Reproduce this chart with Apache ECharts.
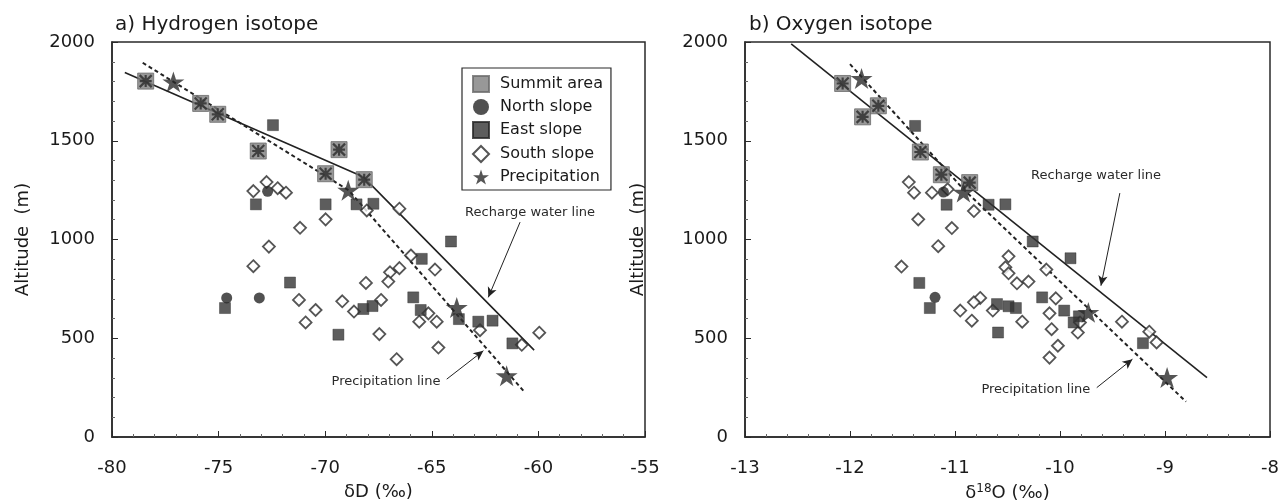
<!DOCTYPE html>
<html>
<head>
<meta charset="utf-8">
<script src="https://cdn.jsdelivr.net/npm/echarts@6/dist/echarts.min.js"></script>
<style>html,body{margin:0;padding:0;background:#fff}#c{width:1281px;height:504px}</style>
</head>
<body>
<div id="c"></div>
<script>
// ---------- data (a) Hydrogen isotope: [deltaD, altitude] ----------
var summitD = [[-78.42,1802],[-75.84,1689],[-75.04,1634],[-73.14,1448],[-69.35,1455],[-69.98,1333],[-68.17,1303]];
var northD = [[-72.7,1244],[-74.62,704],[-73.09,704]];
var eastD = [[-72.45,1579],[-73.25,1178],[-69.98,1178],[-68.53,1178],[-67.74,1181],[-64.10,990],[-65.47,902],[-71.65,782],[-74.70,653],[-65.87,707],[-65.52,643],[-68.21,648],[-67.78,663],[-63.73,597],[-62.82,584],[-62.15,589],[-69.38,518],[-61.22,474]];
var southD = [[-72.75,1291],[-73.37,1245],[-72.23,1260],[-71.84,1237],[-68.05,1147],[-69.98,1102],[-71.18,1059],[-72.64,964],[-66.52,1156],[-73.37,865],[-65.98,919],[-64.85,848],[-66.52,855],[-66.96,834],[-67.04,787],[-68.09,780],[-71.23,694],[-69.2,687],[-67.38,694],[-70.45,643],[-68.65,635],[-70.92,580],[-65.16,626],[-65.59,584],[-64.77,584],[-62.74,541],[-67.46,521],[-64.69,453],[-66.65,394],[-60.78,467],[-59.96,528]];
var precipD = [[-77.12,1798],[-68.92,1249],[-63.83,656],[-61.49,310]];
var rechargeLineD = [[-79.4,1846],[-68.2,1316],[-60.2,440]];
var precipLineD = [[-78.56,1895],[-68.9,1249],[-60.63,225]];

// ---------- data (b) Oxygen isotope: [delta18O, altitude] ----------
var summitO = [[-12.07,1790],[-11.88,1621],[-11.73,1677],[-11.33,1443],[-11.13,1328],[-10.86,1288]];
var northO = [[-11.11,1240],[-11.19,707]];
var eastO = [[-11.38,1575],[-11.08,1176],[-10.68,1176],[-10.52,1178],[-10.26,990],[-9.90,905],[-11.34,780],[-11.24,653],[-10.60,673],[-10.49,662],[-10.42,653],[-10.17,707],[-9.96,640],[-9.82,611],[-9.87,580],[-10.59,529],[-9.21,475]];
var southO = [[-11.44,1291],[-11.39,1237],[-11.22,1237],[-11.07,1254],[-10.82,1144],[-11.35,1102],[-11.03,1058],[-11.16,966],[-11.51,863],[-10.49,915],[-10.52,859],[-10.49,829],[-10.41,778],[-10.30,787],[-10.13,848],[-10.76,704],[-10.82,682],[-10.95,640],[-10.84,589],[-10.64,640],[-10.36,584],[-10.04,702],[-10.10,626],[-10.08,546],[-9.81,580],[-9.83,529],[-10.02,462],[-10.10,402],[-9.41,584],[-9.15,533],[-9.08,479]];
var precipO = [[-11.89,1815],[-10.92,1240],[-9.73,631],[-8.98,301]];
var rechargeLineO = [[-12.56,1990],[-8.60,301]];
var precipLineO = [[-12.0,1888],[-10.92,1255],[-8.80,179]];

// ---------- labels ----------
var legendNames = ['Summit area','North slope','East slope','South slope','Precipitation'];
var titles = ['a) Hydrogen isotope','b) Oxygen isotope'];
var yName = 'Altitude  (m)';
var lineLabels = ['Recharge water line','Precipitation line'];
// annotation anchors (data coords): [text position, arrow start, arrow tip]
var annD = {recharge:[[-60.39,1137],[-60.86,1088],[-62.35,707]], precip:[[-67.15,279],[-64.30,293],[-62.58,437]]};
var annO = {recharge:[[-9.657,1325],[-9.43,1235],[-9.61,766]], precip:[[-10.23,242],[-9.65,250],[-9.31,394]]};

var FONT = 'DejaVu Sans';
var DARK = '#2a2a2a';
var TXT = '#1a1a1a';
var STAR = 'path://M50,0L61.17,34.63L97.55,34.55L68.07,55.87L79.39,90.45L50,69L20.61,90.45L31.93,55.87L2.45,34.55L38.83,34.63Z';
var CROSS = 'path://M0,0L10,10M10,0L0,10M5,0L5,10M0,5L10,5';

function xAxisCfg(idx, min, max, interval, name) {
  return {
    gridIndex: idx, type: 'value', min: min, max: max, interval: interval,
    axisLine: {show: true, lineStyle: {color: DARK, width: 1.5}},
    axisTick: {show: true, inside: true, length: 6, lineStyle: {color: DARK}},
    minorTick: {show: true, splitNumber: 5, length: 3, lineStyle: {color: '#666'}},
    splitLine: {show: false},
    axisLabel: {fontSize: 18, color: TXT, margin: 22, fontFamily: FONT},
    name: name, nameLocation: 'middle', nameGap: 46,
    nameTextStyle: {fontSize: 18, color: TXT, fontFamily: FONT,
      rich: {sup: {fontSize: 12, verticalAlign: 'top', color: TXT, fontFamily: FONT, padding: [0,0,8,0]}}}
  };
}
function yAxisCfg(idx, gap) {
  return {
    gridIndex: idx, type: 'value', min: 0, max: 2000, interval: 500,
    axisLine: {show: true, lineStyle: {color: DARK, width: 1.5}},
    axisTick: {show: true, inside: true, length: 6, lineStyle: {color: DARK}},
    minorTick: {show: true, splitNumber: 5, length: 3, lineStyle: {color: '#666'}},
    splitLine: {show: false},
    axisLabel: {fontSize: 18, color: TXT, margin: 17, fontFamily: FONT, formatter: function (v) { return String(v); }},
    name: yName, nameLocation: 'middle', nameGap: gap, nameRotate: 90,
    nameTextStyle: {fontSize: 18, color: TXT, fontFamily: FONT}
  };
}
function annotations(ann) {
  return {
    markLine: {
      silent: true, symbol: ['none', 'arrow'], symbolSize: [7, 10],
      lineStyle: {color: '#222', width: 1, type: 'solid'}, label: {show: false},
      data: [
        [{coord: ann.recharge[1]}, {coord: ann.recharge[2]}],
        [{coord: ann.precip[1]}, {coord: ann.precip[2]}]
      ]
    },
    markPoint: {
      silent: true, symbol: 'circle', symbolSize: 0,
      label: {show: true, position: 'inside', fontSize: 13, color: '#2a2a2a', fontFamily: FONT},
      data: [
        {coord: ann.recharge[0], label: {formatter: lineLabels[0]}},
        {coord: ann.precip[0], label: {formatter: lineLabels[1]}}
      ]
    }
  };
}
function seriesFor(idx, summit, north, east, south, precip, recharge, pline, ann) {
  var rl = Object.assign({
    type: 'line', name: 'rechargeLine', xAxisIndex: idx, yAxisIndex: idx, data: recharge,
    showSymbol: false, symbol: 'none', silent: true,
    lineStyle: {color: '#222', width: 1.6}, z: 1
  }, annotations(ann));
  return [
    rl,
    {type: 'line', name: 'precipLine', xAxisIndex: idx, yAxisIndex: idx, data: pline,
      showSymbol: false, symbol: 'none', silent: true,
      lineStyle: {color: '#222', width: 2, type: [4, 3]}, z: 1},
    {type: 'scatter', name: legendNames[3], xAxisIndex: idx, yAxisIndex: idx, data: south,
      symbol: 'diamond', symbolSize: 12,
      itemStyle: {color: '#fff', borderColor: DARK, borderWidth: 1.8}, z: 3},
    {type: 'scatter', name: legendNames[2], xAxisIndex: idx, yAxisIndex: idx, data: east,
      symbol: 'rect', symbolSize: 11,
      itemStyle: {color: '#353535', borderColor: '#252525', borderWidth: 0.5}, z: 4},
    {type: 'scatter', name: legendNames[1], xAxisIndex: idx, yAxisIndex: idx, data: north,
      symbol: 'circle', symbolSize: 11,
      itemStyle: {color: '#262626'}, z: 4},
    {type: 'scatter', name: legendNames[0], xAxisIndex: idx, yAxisIndex: idx, data: summit,
      symbol: 'rect', symbolSize: 16,
      itemStyle: {color: '#7e7e7e', borderColor: '#6a6a6a', borderWidth: 1}, z: 5},
    {type: 'scatter', name: legendNames[0], xAxisIndex: idx, yAxisIndex: idx, data: summit,
      symbol: CROSS, symbolSize: 12, silent: true,
      itemStyle: {color: 'rgba(0,0,0,0)', borderColor: '#2a2a2a', borderWidth: 2.2}, z: 6},
    {type: 'scatter', name: legendNames[4], xAxisIndex: idx, yAxisIndex: idx, data: precip,
      symbol: STAR, symbolSize: 22, symbolKeepAspect: true,
      itemStyle: {color: '#2a2a2a'}, z: 7}
  ];
}

var chart = echarts.init(document.getElementById('c'), null, {renderer: 'canvas'});
var option = {
  backgroundColor: '#fff',
  animation: false,
  textStyle: {fontFamily: FONT},
  grid: [
    {left: 112, right: 636, top: 42, bottom: 67, outerBoundsMode: 'none', containLabel: false, show: true, borderColor: DARK, borderWidth: 1.5, backgroundColor: 'transparent'},
    {left: 745, right: 11, top: 42, bottom: 67, outerBoundsMode: 'none', containLabel: false, show: true, borderColor: DARK, borderWidth: 1.5, backgroundColor: 'transparent'}
  ],
  title: [
    {text: titles[0], left: 115, top: 15, padding: 0, textStyle: {fontSize: 20, fontWeight: 'normal', color: TXT, fontFamily: FONT}},
    {text: titles[1], left: 749, top: 15, padding: 0, textStyle: {fontSize: 20, fontWeight: 'normal', color: TXT, fontFamily: FONT}}
  ],
  legend: {
    data: legendNames, orient: 'vertical', left: 462, top: 68,
    itemWidth: 16, itemHeight: 16, itemGap: 6,
    borderColor: DARK, borderWidth: 1.2, padding: [7, 8, 5, 10],
    textStyle: {fontSize: 16, color: TXT, fontFamily: FONT, padding: [0, 0, 0, 6]},
    selectedMode: false
  },
  xAxis: [
    xAxisCfg(0, -80, -55, 5, 'δD (‰)'),
    xAxisCfg(1, -13, -8, 1, 'δ{sup|18}O (‰)')
  ],
  yAxis: [yAxisCfg(0, 80), yAxisCfg(1, 98)],
  series: [].concat(
    seriesFor(0, summitD, northD, eastD, southD, precipD, rechargeLineD, precipLineD, annD),
    seriesFor(1, summitO, northO, eastO, southO, precipO, rechargeLineO, precipLineO, annO)
  )
};
chart.setOption(option);
</script>
</body>
</html>
